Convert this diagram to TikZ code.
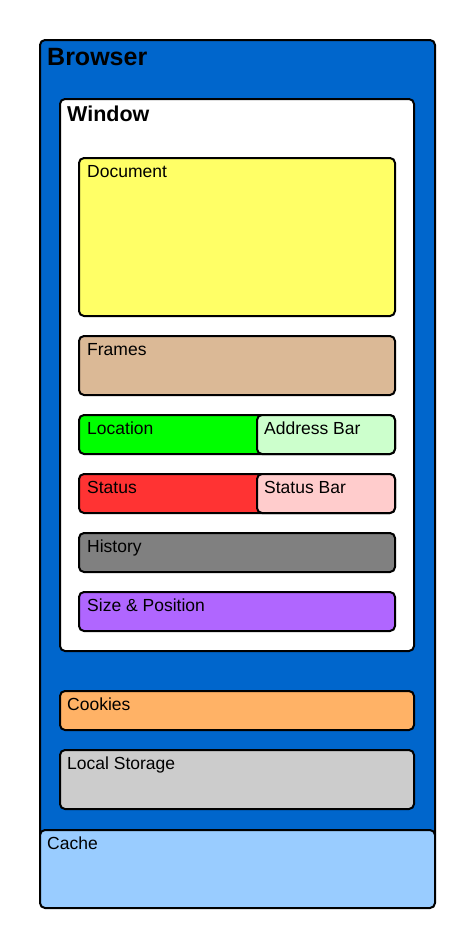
\documentclass[tikz,border=0pt]{standalone}
\usepackage{fontspec}
\setmainfont{Liberation Sans}
\usepackage{tikz}

\definecolor{browserblue}{HTML}{0066CC}
\definecolor{docyellow}{HTML}{FFFF66}
\definecolor{frametan}{HTML}{DBB996}
\definecolor{locgreen}{HTML}{00FF00}
\definecolor{addrgreen}{HTML}{CCFFCC}
\definecolor{statred}{HTML}{FF3333}
\definecolor{statpink}{HTML}{FFCCCC}
\definecolor{histgrey}{HTML}{808080}
\definecolor{sizepurple}{HTML}{B066FF}
\definecolor{cookieorange}{HTML}{FFB266}
\definecolor{storegrey}{HTML}{CCCCCC}
\definecolor{cacheblue}{HTML}{99CCFF}

\tikzset{
	box/.style={draw=black,line width=2pt,rounded corners=5pt,anchor=north west,inner sep=0pt,outer sep=0pt},
	lbl/.style={anchor=north west,inner sep=0pt,font=\fontsize{17.5}{20}\selectfont}
}
\newcommand{\boxat}[6]{% name, colour, x, y, width, height
	\node[box,fill=#2,minimum width=#5pt,minimum height=#6pt] (#1) at (#3,-#4) {};
}

\begin{document}
\begin{tikzpicture}[x=1pt,y=1pt]
	\useasboundingbox (0,0) rectangle (474,-948);
	% outer containers
	\boxat{Browser}{browserblue}{40}{40}{395}{800}
	\node[lbl,font=\bfseries\fontsize{25}{28}\selectfont] (BrowserText) at ([shift={(7,-8)}]Browser.north west) {Browser};
	\boxat{Window}{white}{60}{99}{354}{552}
	\node[lbl,font=\bfseries\fontsize{21.5}{24}\selectfont] (WindowText) at ([shift={(7,-7)}]Window.north west) {Window};
	% window objects
	\boxat{Document}{docyellow}{79}{158}{316}{158}
	\node[lbl] (DocumentText) at ([shift={(8,-7)}]Document.north west) {Document};
	\boxat{Frames}{frametan}{79}{336}{316}{59}
	\node[lbl] (FramesText) at ([shift={(8,-7)}]Frames.north west) {Frames};
	\boxat{Location}{locgreen}{79}{415}{316}{39}
	\node[lbl] (LocationText) at ([shift={(8,-7)}]Location.north west) {Location};
	\boxat{AddressBar}{addrgreen}{257}{415}{138}{39}
	\node[lbl] (AddressBarText) at ([shift={(7,-7)}]AddressBar.north west) {Address Bar};
	\boxat{Status}{statred}{79}{474}{316}{39}
	\node[lbl] (StatusText) at ([shift={(8,-7)}]Status.north west) {Status};
	\boxat{StatusBar}{statpink}{257}{474}{138}{39}
	\node[lbl] (StatusBarText) at ([shift={(7,-7)}]StatusBar.north west) {Status Bar};
	\boxat{History}{histgrey}{79}{533}{316}{39}
	\node[lbl] (HistoryText) at ([shift={(8,-7)}]History.north west) {History};
	\boxat{SizePos}{sizepurple}{79}{592}{316}{39}
	\node[lbl] (SizePosText) at ([shift={(8,-7)}]SizePos.north west) {Size \& Position};
	% browser objects
	\boxat{Cookies}{cookieorange}{60}{691}{354}{39}
	\node[lbl] (CookiesText) at ([shift={(7,-7)}]Cookies.north west) {Cookies};
	\boxat{LocalStorage}{storegrey}{60}{750}{354}{59}
	\node[lbl] (LocalStorageText) at ([shift={(7,-7)}]LocalStorage.north west) {Local Storage};
	\boxat{Cache}{cacheblue}{40}{830}{395}{78}
	\node[lbl] (CacheText) at ([shift={(7,-7)}]Cache.north west) {Cache};
\end{tikzpicture}
\end{document}
